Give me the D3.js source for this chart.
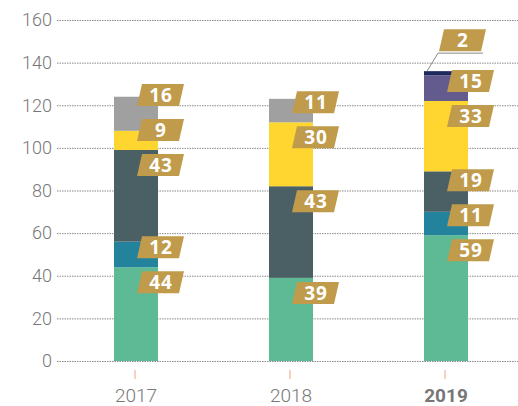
<!DOCTYPE html>
<html>
<head>
<meta charset="utf-8">
<style>
  body { margin: 0; background: #fff; }
  .grid line { stroke: #8a8a8a; stroke-dasharray: 1.5,1; }
  .grid path { display: none; }
  .grid text { fill: #777; font-family: Roboto, sans-serif; font-weight: 300; font-size: 18px; }
  .xlab { font-family: Roboto, sans-serif; font-size: 19px; fill: #777; }
  .tag text { font-family: "Open Sans", sans-serif; font-weight: 700; font-size: 19px; fill: #fff; letter-spacing: 1px; }
</style>
<script src="https://cdn.jsdelivr.net/npm/d3@7/dist/d3.min.js"></script>
</head>
<body>
<svg width="518" height="406"></svg>
<script>
var years = ["2017", "2018", "2019"];
var yTicks = [0, 20, 40, 60, 80, 100, 120, 140, 160];

// stacked from bottom to top
var greenVals  = [44, 39, 59];
var tealVals   = [12, 0, 11];
var slateVals  = [43, 43, 19];
var yellowVals = [9, 30, 33];
var greyVals   = [16, 11, 0];
var purpleVals = [0, 0, 12];
var navyVals   = [0, 0, 2];

// texts printed on the gold tags
var purpleLabels = ["", "", "15"];

var series = [
  { color: "#5dba94", values: greenVals },
  { color: "#23839d", values: tealVals },
  { color: "#4b6064", values: slateVals },
  { color: "#ffd530", values: yellowVals },
  { color: "#a0a0a0", values: greyVals },
  { color: "#635a8e", values: purpleVals, labels: purpleLabels },
  { color: "#1e2a5e", values: navyVals }
];

var svg = d3.select("svg");

var y = d3.scaleLinear().domain([0, 160]).range([361, 20]);
var x = d3.scalePoint().domain(years).range([136, 446]);
var barW = 44;

// gridlines + y labels
svg.append("g")
    .attr("class", "grid")
    .attr("transform", "translate(57,0)")
    .call(d3.axisLeft(y).tickValues(yTicks).tickSize(-461).tickPadding(5));

// x ticks and labels
var xg = svg.append("g");
years.forEach(function(yr, i) {
  var last = i == years.length - 1;
  xg.append("line")
      .attr("x1", x(yr) - 1).attr("x2", x(yr) - 1)
      .attr("y1", 370).attr("y2", 379)
      .attr("stroke", "#f2b49b").attr("stroke-width", 1.2);
  xg.append("text")
      .attr("class", "xlab")
      .attr("x", x(yr)).attr("y", 402)
      .attr("text-anchor", "middle")
      .attr("font-weight", last ? 700 : 300)
      .attr("fill", last ? "#555" : "#777")
      .text(yr);
});

function tag(g, x0, cy, txt) {
  var h = 22, w = 42, sk = 5, t = cy - h / 2, b = cy + h / 2;
  var grp = g.append("g").attr("class", "tag");
  grp.append("path")
      .attr("d", "M" + (x0 + sk) + "," + t + "L" + (x0 + sk + w) + "," + t +
                 "L" + (x0 + w) + "," + b + "L" + x0 + "," + b + "Z")
      .attr("fill", "#bf9b4b");
  grp.append("text")
      .attr("x", x0 + (w + sk) / 2 + 0.5).attr("y", cy)
      .attr("dy", "0.36em")
      .attr("text-anchor", "middle")
      .text(txt);
}

var bars = svg.append("g");
var tags = svg.append("g");

years.forEach(function(yr, i) {
  var base = 0;
  var cx = x(yr);
  var prevCy = Infinity;
  var segs = [];
  series.forEach(function(s) {
    var v = s.values[i];
    if (!v) return;
    var y0 = base, y1 = base + v;
    base = y1;
    bars.append("rect")
        .attr("x", cx - barW / 2)
        .attr("y", y(y1))
        .attr("width", barW)
        .attr("height", y(y0) - y(y1))
        .attr("fill", s.color);
    segs.push({ top: y(y1), h: y(y0) - y(y1), txt: s.labels ? s.labels[i] : String(v) });
  });

  segs.forEach(function(sg, k) {
    var last = k == segs.length - 1;
    if (last && sg.h < 6) {
      // callout for a thin segment on top
      var ly = sg.top - 18;
      tags.append("path")
          .attr("d", "M" + (cx - barW / 2 + 3) + "," + sg.top + "L" + (cx - 8) + "," + ly + "L" + (cx + 37) + "," + ly)
          .attr("fill", "none").attr("stroke", "#8a8a8a").attr("stroke-width", 1);
      tag(tags, cx - 7, sg.top - 31, sg.txt);
      return;
    }
    var cy = Math.min(sg.top + 15, prevCy - 35);
    prevCy = cy;
    tag(tags, cx + 1, cy, sg.txt);
  });
});
</script>
</body>
</html>
